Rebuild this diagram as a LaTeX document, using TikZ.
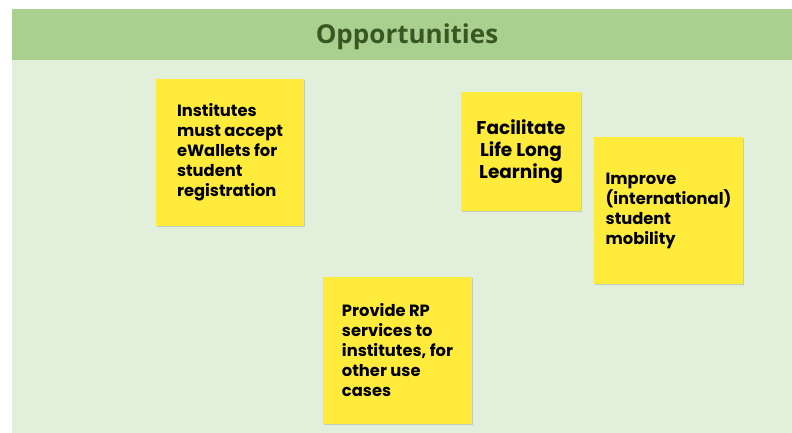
\documentclass[tikz,border=0pt]{standalone}
\usepackage{fontspec}
\setmainfont{Poppins}
\newfontfamily\titlefont{Open Sans}
\usetikzlibrary{shadows}
\definecolor{bandgreen}{RGB}{169,208,142}
\definecolor{panelgreen}{RGB}{226,239,218}
\definecolor{titlegreen}{RGB}{56,87,35}
\definecolor{notey}{RGB}{255,235,59}

\begin{document}
\begin{tikzpicture}[x=1pt,y=1pt,
  sticky/.style={fill=notey, inner sep=0pt, font=\bfseries\fontsize{16.3}{20}\selectfont, align=left,
    drop shadow={shadow xshift=1pt, shadow yshift=-1.5pt, opacity=0.25, fill=black!60}}]
\useasboundingbox (0,0) rectangle (792,433);
\fill[white] (0,0) rectangle (792,433);
\fill[panelgreen] (12,0) rectangle (792,424);
\fill[bandgreen] (12,373) rectangle (792,424);
\node[font=\titlefont\bfseries\fontsize{26}{30}\selectfont, text=titlegreen] (title) at (407,396) {Opportunities};
% sticky notes
\node[sticky, minimum width=148, minimum height=147] (inst) at (230,280.5) {Institutes\\must accept\\eWallets for\\student\\registration};
\node[sticky, minimum width=120, minimum height=119, align=center, font=\bfseries\fontsize{18.5}{22}\selectfont] (life) at (521,281.5) {Facilitate\\Life Long\\Learning};
\node[sticky, minimum width=149, minimum height=147] (mob) at (668.5,222.5) {Improve\\(international)\\student\\mobility};
\node[sticky, minimum width=149, minimum height=147] (rp) at (397.5,82.5) {Provide RP\\services to\\institutes, for\\other use\\cases};
\end{tikzpicture}
\end{document}
